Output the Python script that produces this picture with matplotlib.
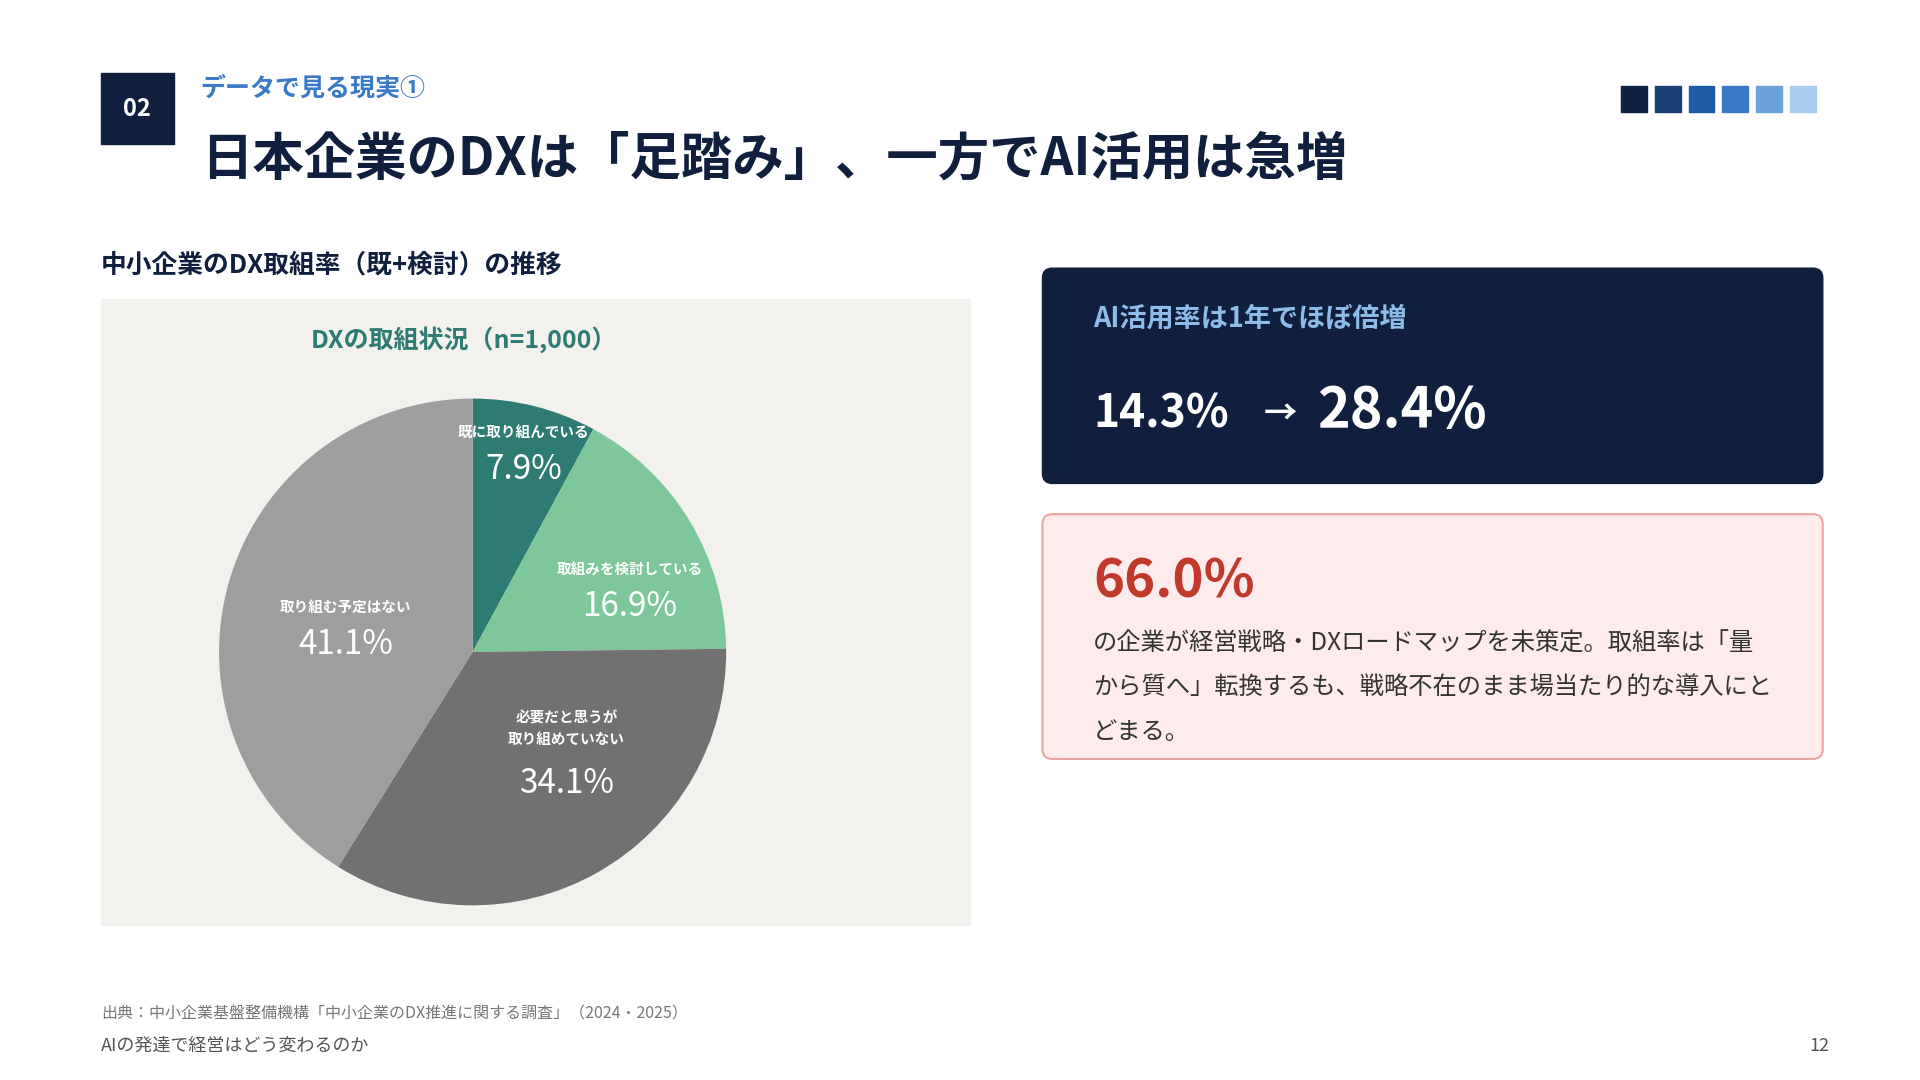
import matplotlib.pyplot as plt
from matplotlib.patches import Rectangle, FancyBboxPatch

plt.rcParams['font.family'] = ['Noto Sans CJK JP', 'DejaVu Sans']

labels = ['既に取り組んでいる', '取組みを検討している', '必要だと思うが\n取り組めていない', '取り組む予定はない']
values = [7.9, 16.9, 34.1, 41.1]
colors = ['#2e7b73', '#7ec79a', '#717171', '#9e9e9e']
ai_before, ai_after = 14.3, 28.4
no_strategy = 66.0
squares = ['#0f2244', '#1b3f73', '#1f5aa6', '#3a78c8', '#6aa3dc', '#a9cdee']

W, H = 1560, 878
NAVY = '#0f1f3d'
fig = plt.figure(figsize=(19.2, 10.8), dpi=100)
bg = fig.add_axes([0, 0, 1, 1])
bg.set_xlim(0, W)
bg.set_ylim(H, 0)
bg.axis('off')

# header
bg.add_patch(Rectangle((82, 59), 59, 58, color=NAVY))
bg.text(111.5, 89, '02', color='white', fontsize=17, fontweight='bold', ha='center', va='center')
bg.text(163, 72, 'データで見る現実①', color='#3a78c8', fontsize=18, fontweight='bold', va='center')
bg.text(163, 129, '日本企業のDXは「足踏み」、一方でAI活用は急増', color=NAVY, fontsize=37,
        fontweight='bold', va='center')
for i, c in enumerate(squares):
    bg.add_patch(Rectangle((1317 + i * 27.5, 70), 21, 21, color=c))

# left panel
bg.text(82, 215, '中小企業のDX取組率（既+検討）の推移', color=NAVY, fontsize=18.5, fontweight='bold', va='center')
bg.add_patch(Rectangle((82, 243), 706, 509, color='#f3f1ee'))
bg.text(377, 276, 'DXの取組状況（n=1,000）', color='#2e7b73', fontsize=18, fontweight='bold',
        ha='center', va='center')

size = 412
pax = fig.add_axes([(384 - size / 2) / W, 1 - (530 + size / 2) / H, size / W, size / H])
pax.pie(values, colors=colors, startangle=90, counterclock=False, radius=1,
        wedgeprops=dict(linewidth=0))
pax.set_xlim(-1, 1)
pax.set_ylim(-1, 1)
pax.set_aspect('auto')
pos = [(0.2, 0.74), (0.62, 0.2), (0.37, -0.5), (-0.5, 0.05)]
for (x, y), lab, v in zip(pos, labels, values):
    pax.text(x, y + (0.2 if '\n' in lab else 0.13), lab, color='white', fontsize=10.5,
             fontweight='bold', ha='center', va='center', linespacing=1.4)
    pax.text(x, y - 0.02, f'{v}%', color='white', fontsize=24,
             ha='center', va='center')

# right top card
bg.add_patch(FancyBboxPatch((847, 218), 634, 175, boxstyle='round,pad=0,rounding_size=8', color=NAVY))
bg.text(888, 259, 'AI活用率は1年でほぼ倍増', color='#8fbbe8', fontsize=19.5, fontweight='bold', va='center')
bg.text(888, 337, f'{ai_before}%', color='white', fontsize=32, fontweight='bold', va='center')
bg.text(1040, 337, '→', color='white', fontsize=24, fontweight='bold', ha='center', va='center')
bg.text(1070, 334, f'{ai_after}%', color='white', fontsize=40, fontweight='bold', va='center')

# right bottom card
bg.add_patch(FancyBboxPatch((847, 418), 634, 199, boxstyle='round,pad=0,rounding_size=8',
                            facecolor='#fdeceb', edgecolor='#eaa5a2', linewidth=1.5))
bg.text(888, 473, f'{no_strategy}%', color='#c0392b', fontsize=38, fontweight='bold', va='center')
body = ['の企業が経営戦略・DXロードマップを未策定。取組率は「量',
        'から質へ」転換するも、戦略不在のまま場当たり的な導入にと',
        'どまる。']
for i, line in enumerate(body):
    bg.text(888, 523 + i * 36, line, color='#333333', fontsize=17.5, va='center')

# footer
bg.text(82, 824, '出典：中小企業基盤整備機構「中小企業のDX推進に関する調査」（2024・2025）',
        color='#777777', fontsize=11.5, va='center')
bg.text(82, 850, 'AIの発達で経営はどう変わるのか', color='#555555', fontsize=13, va='center')
bg.text(1486, 850, '12', color='#555555', fontsize=13, ha='right', va='center')

fig.savefig('out.png', dpi=100, facecolor='white')
